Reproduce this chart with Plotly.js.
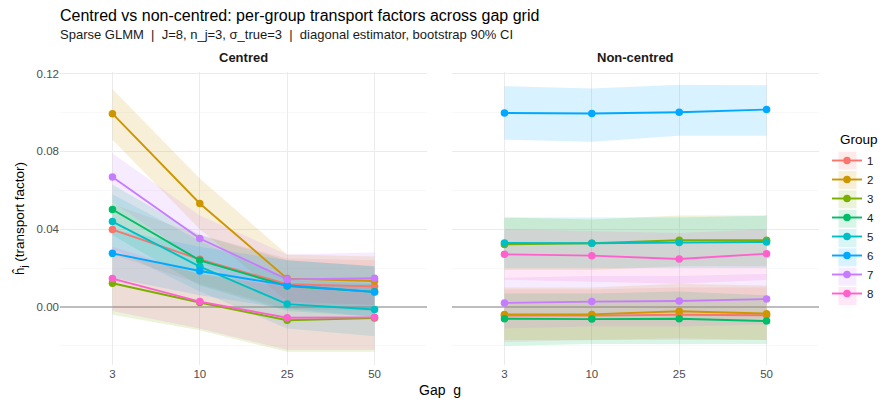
<!DOCTYPE html>
<html><head><meta charset="utf-8">
<script src="https://cdn.plot.ly/plotly-3.0.1.min.js"></script>
<style>html,body{margin:0;padding:0;background:#fff}</style>
</head><body><div id="chart" style="width:882px;height:405px"></div>
<script>
const gaps = ['3', '10', '25', '50'];
const groups = ['1', '2', '3', '4', '5', '6', '7', '8'];
const colors = ['#F8766D', '#CD9600', '#7CAE00', '#00BE67', '#00BFC4', '#00A9FF', '#C77CFF', '#FF61CC'];
const panelNames = ['Centred', 'Non-centred'];

// Centred: point estimates
const cen1 = [0.0398, 0.0245, 0.0117, 0.0106];
const cen2 = [0.0994, 0.0532, 0.0146, 0.0134];
const cen3 = [0.0122, 0.0023, -0.0068, -0.0057];
const cen4 = [0.0501, 0.0240, 0.0108, 0.0078];
const cen5 = [0.0439, 0.0208, 0.0015, -0.0013];
const cen6 = [0.0276, 0.0185, 0.0112, 0.0077];
const cen7 = [0.0668, 0.0352, 0.0142, 0.0148];
const cen8 = [0.0146, 0.0028, -0.0055, -0.0053];
// Centred: 90% CI lower / upper
const cenLo1 = [0.027, 0.012, -0.001, -0.002];
const cenHi1 = [0.053, 0.037, 0.025, 0.024];
const cenLo2 = [0.086, 0.040, 0.003, 0.001];
const cenHi2 = [0.112, 0.066, 0.027, 0.026];
const cenLo3 = [-0.004, -0.012, -0.023, -0.023];
const cenHi3 = [0.028, 0.017, 0.010, 0.012];
const cenLo4 = [0.037, 0.011, -0.002, -0.005];
const cenHi4 = [0.063, 0.037, 0.024, 0.021];
const cenLo5 = [0.030, 0.008, -0.011, -0.015];
const cenHi5 = [0.058, 0.034, 0.014, 0.012];
const cenLo6 = [0.015, 0.006, -0.001, -0.005];
const cenHi6 = [0.040, 0.031, 0.024, 0.021];
const cenLo7 = [0.054, 0.023, 0.002, 0.001];
const cenHi7 = [0.079, 0.047, 0.027, 0.028];
const cenLo8 = [-0.002, -0.011, -0.022, -0.022];
const cenHi8 = [0.031, 0.017, 0.011, 0.011];

// Non-centred: point estimates
const non1 = [-0.0044, -0.0044, -0.0040, -0.0042];
const non2 = [-0.0038, -0.0038, -0.0022, -0.0034];
const non3 = [0.0322, 0.0328, 0.0343, 0.0343];
const non4 = [-0.0060, -0.0062, -0.0060, -0.0072];
const non5 = [0.0329, 0.0328, 0.0331, 0.0334];
const non6 = [0.0997, 0.0995, 0.1001, 0.1015];
const non7 = [0.0021, 0.0028, 0.0031, 0.0041];
const non8 = [0.0271, 0.0264, 0.0247, 0.0274];
// Non-centred: 90% CI lower / upper
const nonLo1 = [-0.018, -0.017, -0.017, -0.017];
const nonHi1 = [0.009, 0.009, 0.010, 0.010];
const nonLo2 = [-0.017, -0.017, -0.016, -0.017];
const nonHi2 = [0.010, 0.010, 0.012, 0.011];
const nonLo3 = [0.019, 0.019, 0.021, 0.021];
const nonHi3 = [0.046, 0.045, 0.047, 0.047];
const nonLo4 = [-0.020, -0.019, -0.019, -0.019];
const nonHi4 = [0.007, 0.007, 0.008, 0.006];
const nonLo5 = [0.020, 0.020, 0.020, 0.020];
const nonHi5 = [0.046, 0.046, 0.046, 0.047];
const nonLo6 = [0.086, 0.085, 0.088, 0.088];
const nonHi6 = [0.1135, 0.1123, 0.1143, 0.1140];
const nonLo7 = [-0.011, -0.010, -0.010, -0.009];
const nonHi7 = [0.015, 0.016, 0.016, 0.017];
const nonLo8 = [0.014, 0.013, 0.012, 0.014];
const nonHi8 = [0.040, 0.039, 0.038, 0.040];

const est = [
  [cen1, cen2, cen3, cen4, cen5, cen6, cen7, cen8],
  [non1, non2, non3, non4, non5, non6, non7, non8]
];
const lo = [
  [cenLo1, cenLo2, cenLo3, cenLo4, cenLo5, cenLo6, cenLo7, cenLo8],
  [nonLo1, nonLo2, nonLo3, nonLo4, nonLo5, nonLo6, nonLo7, nonLo8]
];
const hi = [
  [cenHi1, cenHi2, cenHi3, cenHi4, cenHi5, cenHi6, cenHi7, cenHi8],
  [nonHi1, nonHi2, nonHi3, nonHi4, nonHi5, nonHi6, nonHi7, nonHi8]
];

function rgba(hex, a) {
  const r = parseInt(hex.slice(1, 3), 16), g = parseInt(hex.slice(3, 5), 16), b = parseInt(hex.slice(5, 7), 16);
  return `rgba(${r},${g},${b},${a})`;
}

const traces = [];
const axX = ['x', 'x2'], axY = ['y', 'y2'];
for (let p = 0; p < 2; p++) {
  for (let i = 0; i < groups.length; i++) {
    traces.push({
      x: gaps, y: lo[p][i], xaxis: axX[p], yaxis: axY[p], type: 'scatter', mode: 'lines',
      line: {width: 0, color: 'rgba(0,0,0,0)'}, showlegend: false, hoverinfo: 'skip'
    });
    traces.push({
      x: gaps, y: hi[p][i], xaxis: axX[p], yaxis: axY[p], type: 'scatter', mode: 'lines',
      fill: 'tonexty', fillcolor: rgba(colors[i], 0.15),
      line: {width: 0, color: 'rgba(0,0,0,0)'}, showlegend: false, hoverinfo: 'skip'
    });
  }
}
for (let p = 0; p < 2; p++) {
  for (let i = 0; i < groups.length; i++) {
    traces.push({
      x: gaps, y: est[p][i], xaxis: axX[p], yaxis: axY[p], type: 'scatter', mode: 'lines+markers',
      name: groups[i], legendgroup: groups[i], showlegend: p === 0,
      line: {color: colors[i], width: 1.9},
      marker: {color: colors[i], size: 7.5}
    });
  }
}

// Plot geometry (px) used for placing the non-data decorations
const W = 882, H = 405, mL = 60, mR = 63, mT = 72, mB = 40;
const pw = W - mL - mR, ph = H - mT - mB;
const px2x = v => (v - mL) / pw;
const py2y = v => (H - mB - v) / ph;

// Legend key background boxes (ggplot-style tinted keys)
const keyTop = 160.7, keyStep = 19.33;
const shapes = groups.map((g, i) => ({
  type: 'rect', xref: 'paper', yref: 'paper', layer: 'above',
  x0: px2x(838.5), x1: px2x(856.5),
  y0: py2y(keyTop + i * keyStep + 9), y1: py2y(keyTop + i * keyStep - 9),
  fillcolor: rgba(colors[i], 0.15), line: {width: 0}
}));

const gridC = '#EBEBEB';
const tickFont = {family: 'Liberation Sans, Arial, sans-serif', size: 11.5, color: '#4D4D4D'};
const xbase = {
  type: 'category', categoryorder: 'array', categoryarray: gaps, range: [-0.6, 3.6],
  showgrid: true, gridcolor: gridC, gridwidth: 1, zeroline: false, showline: false,
  ticks: '', tickfont: tickFont, fixedrange: true
};
const ybase = {
  range: [-0.0298, 0.1208], tick0: 0, dtick: 0.04, tickformat: '.2f',
  showgrid: true, gridcolor: gridC, gridwidth: 1,
  minor: {dtick: 0.02, tick0: 0, showgrid: true, gridcolor: '#F4F4F4', gridwidth: 0.6},
  zeroline: true, zerolinecolor: '#BDBDBD', zerolinewidth: 1.1,
  showline: false, ticks: '', tickfont: tickFont, fixedrange: true
};

const layout = {
  width: W, height: H,
  margin: {l: mL, r: mR, t: mT, b: mB, autoexpand: false},
  paper_bgcolor: '#FFFFFF', plot_bgcolor: '#FFFFFF',
  font: {family: 'Liberation Sans, Arial, sans-serif', color: '#1A1A1A'},
  title: {
    text: 'Centred vs non-centred: per-group transport factors across gap grid',
    x: 60 / W, xanchor: 'left', xref: 'container',
    y: 1 - 15 / H, yanchor: 'middle', yref: 'container',
    font: {size: 16, color: '#000000'}
  },
  xaxis: Object.assign({}, xbase, {domain: [0, 0.4835], anchor: 'y'}),
  xaxis2: Object.assign({}, xbase, {domain: [0.5165, 1], anchor: 'y2'}),
  yaxis: Object.assign({}, ybase, {
    anchor: 'x',
    title: {text: 'ĥ<sub>j</sub> (transport factor)', font: {size: 13.5, color: '#000000'}, standoff: 8}
  }),
  yaxis2: Object.assign({}, ybase, {anchor: 'x2', matches: 'y', showticklabels: false}),
  showlegend: true,
  legend: {
    x: px2x(827), xanchor: 'left', y: py2y(146), yanchor: 'top',
    font: {size: 11.5, color: '#1A1A1A'}, tracegroupgap: 0, bgcolor: 'rgba(0,0,0,0)'
  },
  shapes: shapes,
  annotations: [
    {text: 'Sparse GLMM  |  J=8, n_j=3, σ_true=3  |  diagonal estimator, bootstrap 90% CI',
     xref: 'paper', yref: 'paper', x: px2x(58), xanchor: 'left', y: py2y(35), yanchor: 'middle',
     showarrow: false, font: {size: 13, color: '#1A1A1A'}},
    {text: '<b>' + panelNames[0] + '</b>', xref: 'x domain', yref: 'paper', x: 0.5, y: py2y(58),
     yanchor: 'middle', showarrow: false, font: {size: 13, color: '#1A1A1A'}},
    {text: '<b>' + panelNames[1] + '</b>', xref: 'x2 domain', yref: 'paper', x: 0.5, y: py2y(58),
     yanchor: 'middle', showarrow: false, font: {size: 13, color: '#1A1A1A'}},
    {text: 'Gap\u00a0\u00a0g', xref: 'paper', yref: 'paper', x: 0.5, y: py2y(390),
     yanchor: 'middle', showarrow: false, font: {size: 14, color: '#000000'}},
    {text: 'Group', xref: 'paper', yref: 'paper', x: px2x(838), xanchor: 'left', y: py2y(139),
     yanchor: 'middle', showarrow: false, font: {size: 13.5, color: '#000000'}}
  ]
};

Plotly.newPlot('chart', traces, layout, {staticPlot: true, displayModeBar: false});
</script>
</body></html>
